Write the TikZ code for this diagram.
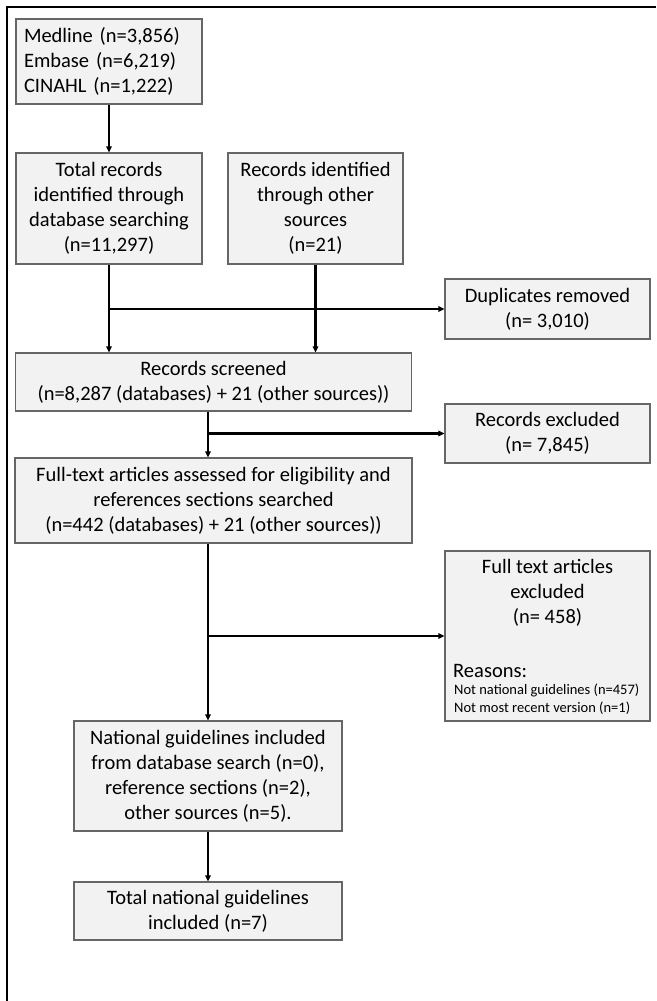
\documentclass[tikz,border=0pt]{standalone}
\usepackage{fontspec}
\setmainfont{Carlito}
\usetikzlibrary{arrows.meta,calc}
\definecolor{boxfill}{HTML}{F2F2F2}
\definecolor{boxline}{HTML}{666666}
\newcommand{\mainsize}{\fontsize{20.5}{25}\selectfont}
\newcommand{\smallsize}{\fontsize{14.5}{18}\selectfont}
\begin{document}
\begin{tikzpicture}[x=1pt,y=-1pt,
  box/.style={draw=boxline, fill=boxfill, line width=1.2pt, inner sep=0pt, align=center, font=\mainsize},
  conn/.style={line width=2.1pt, -{Triangle[length=6pt,width=5.5pt]}},
  txt/.style={inner sep=0pt, font=\mainsize, align=center},
  smalltxt/.style={inner sep=0pt, font=\smallsize}]
\useasboundingbox (0,0) rectangle (656,1001);
\draw[line width=1.6pt] (7,1001) -- (7,7) -- (656,7);

\node[box, minimum width=186pt, minimum height=85pt, text width=170pt, inner xsep=8pt, align=left] (b1) at (109,61.5)
  {Medline (n=3,856)\\Embase (n=6,219)\\CINAHL (n=1,222)};
\node[box, minimum width=186pt, minimum height=111pt] (b2) at (109,208.5)
  {Total records\\identified through\\database searching\\(n=11,297)};
\node[box, minimum width=175pt, minimum height=111pt] (b3) at (315.5,208.5)
  {Records identified\\through other\\sources\\(n=21)};
\node[box, minimum width=205pt, minimum height=60pt] (dup) at (547.5,309)
  {Duplicates removed\\(n= 3,010)};
\node[box, minimum width=396pt, minimum height=58pt] (scr) at (213.5,382)
  {Records screened\\(n=8,287 (databases) + 21 (other sources))};
\node[box, minimum width=205pt, minimum height=59pt] (rexc) at (547.5,433.5)
  {Records excluded\\(n= 7,845)};
\node[box, minimum width=397pt, minimum height=85pt] (ft) at (213.5,500.5)
  {Full-text articles assessed for eligibility and\\references sections searched\\(n=442 (databases) + 21 (other sources))};
\node[box, minimum width=205pt, minimum height=170pt] (ftexc) at (547.5,636) {};
\node[txt] (fteT) at (547.5,593) {Full text articles\\excluded\\(n= 458)};
\node[txt, anchor=base west] (fteR) at (453,677) {Reasons:};
\node[smalltxt, anchor=base west] (fteA) at (454,694) {Not national guidelines (n=457)};
\node[smalltxt, anchor=base west] (fteB) at (454,712) {Not most recent version (n=1)};
\node[box, minimum width=268pt, minimum height=110pt] (nat) at (208,776)
  {National guidelines included\\from database search (n=0),\\reference sections (n=2),\\other sources (n=5).};
\node[box, minimum width=268pt, minimum height=58pt] (tot) at (208,911)
  {Total national guidelines\\included (n=7)};

\draw[conn] (b1.south) -- (b1.south |- b2.north);
\draw[conn] (b2.south) -- (b2.south |- scr.north);
\draw[conn] (b3.south) -- (b3.south |- scr.north);
\draw[conn] (b2.south |- dup.west) -- (dup.west);
\draw[conn] (nat.north |- scr.south) -- (nat.north |- ft.north);
\draw[conn] (nat.north |- rexc.west) -- (rexc.west);
\draw[conn] (nat.north |- ft.south) -- (nat.north);
\draw[conn] (nat.north |- ftexc.west) -- (ftexc.west);
\draw[conn] (nat.south) -- (tot.north);
\end{tikzpicture}
\end{document}
